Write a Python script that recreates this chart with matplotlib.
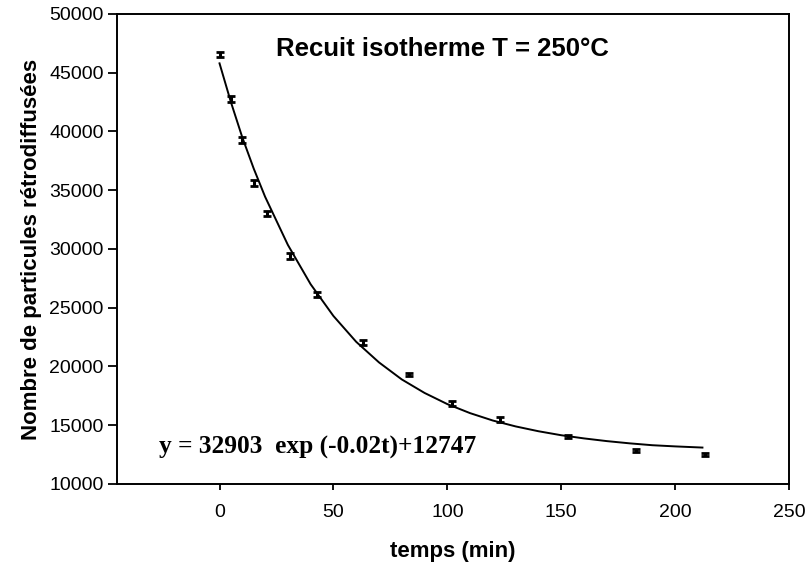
import numpy as np
import matplotlib
matplotlib.use('Agg')
import matplotlib.pyplot as plt

temps = [0, 5, 10, 15, 21, 31, 43, 63, 83, 102, 123, 153, 183, 213]
comptes = [46550, 42800, 39250, 35650, 33000, 29400, 26100, 22050, 19300, 16850, 15500, 14050, 12850, 12500]
erreurs = [180, 250, 250, 250, 220, 220, 220, 220, 150, 250, 200, 130, 130, 130]

# Courbe d'ajustement
t_fit = [0, 5, 10, 15, 20, 30, 40, 50, 60, 70, 80, 90, 100, 110, 120, 130, 140,
         150, 160, 170, 180, 190, 200, 212]
y_fit = [45800, 42500, 39500, 36850, 34450, 30350, 27000, 24300, 22100, 20350,
         18900, 17750, 16800, 16030, 15400, 14900, 14490, 14150, 13880, 13650,
         13460, 13300, 13200, 13100]

fig = plt.figure(figsize=(8.07, 5.69), dpi=100)
ax = fig.add_axes([0.145, 0.1494, 0.8327, 0.826])

ax.plot(t_fit, y_fit, color='black', lw=1.4)
ax.errorbar(temps, comptes, yerr=erreurs, fmt='none', ecolor='black',
            elinewidth=2.2, capsize=3.2, capthick=2)

ax.set_xlim(-45, 250)
ax.set_ylim(10000, 50000)
ax.set_xticks([0, 50, 100, 150, 200, 250])
ax.set_yticks(np.arange(10000, 50001, 5000))

for s in ax.spines.values():
    s.set_linewidth(1.4)
ax.tick_params(axis='y', direction='out', length=6.5, width=1.3, labelsize=14, pad=3)
ax.tick_params(axis='x', direction='out', length=4.5, width=1.3, labelsize=14, pad=10)
for lab in ax.get_xticklabels() + ax.get_yticklabels():
    lab.set_family('Liberation Sans')

ax.set_xlabel('temps (min)', fontsize=16, fontweight='bold', family='Liberation Sans', labelpad=14)
ax.set_ylabel('Nombre de particules rétrodiffusées', fontsize=16, fontweight='bold',
              family='Liberation Sans', labelpad=5)

ax.text(0.484, 0.925, 'Recuit isotherme T = 250°C', transform=ax.transAxes,
        ha='center', va='center', fontsize=18.5, fontweight='bold', family='Liberation Sans')
ax.text(0.063, 0.077, 'y = 32903  exp (-0.02t)+12747', transform=ax.transAxes,
        ha='left', va='center', fontsize=18.3, fontweight='bold', family='Liberation Serif')

fig.savefig('out.png', dpi=100)
